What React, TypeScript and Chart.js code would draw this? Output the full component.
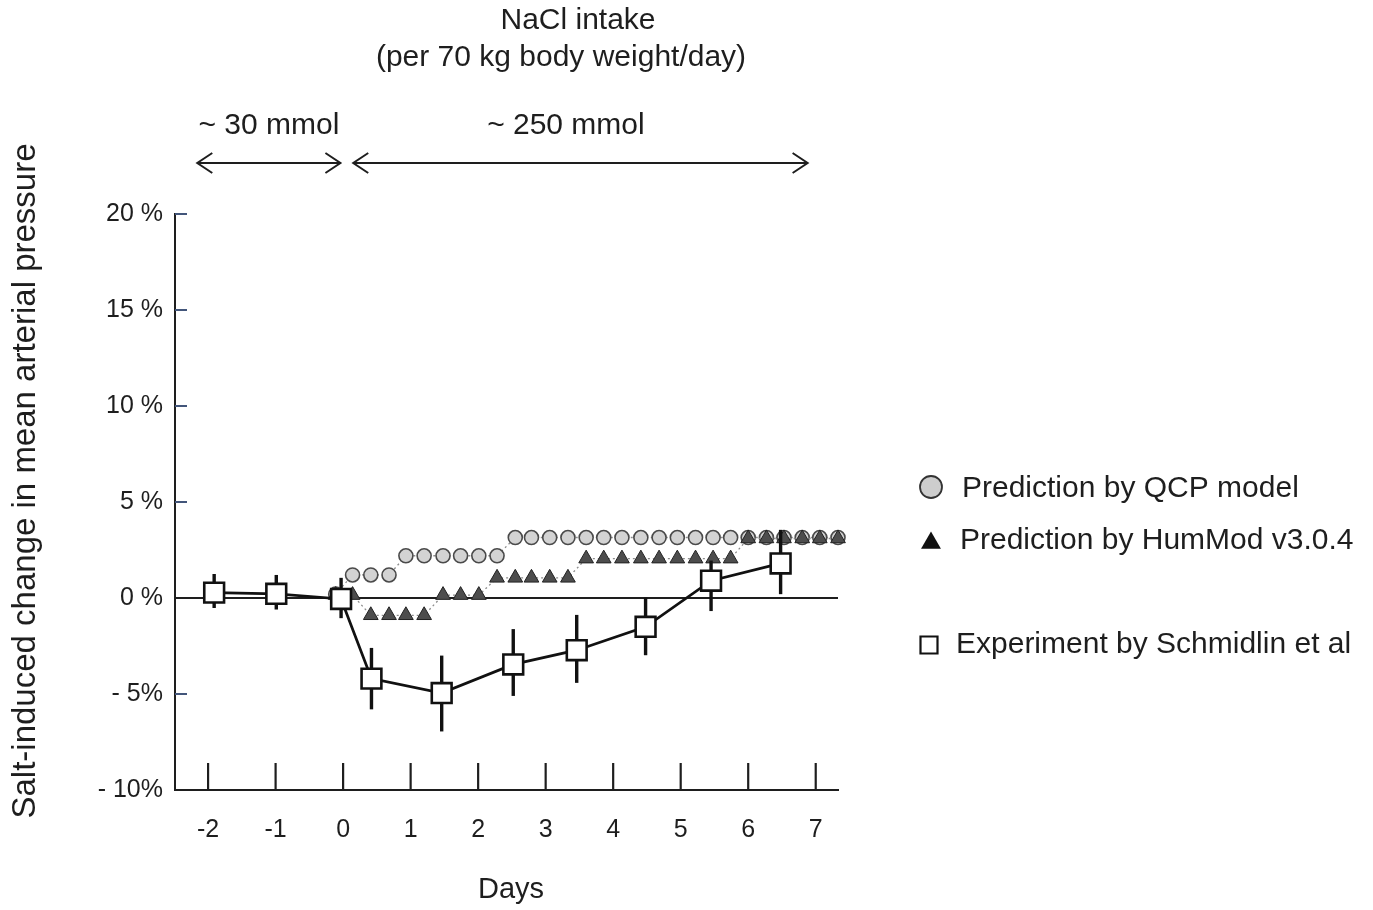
import React, { useEffect, useRef } from 'react';
import { Chart, registerables } from 'chart.js';

Chart.register(...registerables);

// ---------- data ----------
const xTickValues = [-2, -1, 0, 1, 2, 3, 4, 5, 6, 7];
const xTickLabels = ['-2', '-1', '0', '1', '2', '3', '4', '5', '6', '7'];
const yTickValues = [-10, -5, 0, 5, 10, 15, 20];
const yTickLabels = ['- 10%', '- 5%', '0 %', '5 %', '10 %', '15 %', '20 %'];

const modelDays = [
  -0.11, 0.14, 0.41, 0.68, 0.93, 1.2, 1.48, 1.74, 2.01, 2.28, 2.55, 2.79, 3.06, 3.33, 3.6,
  3.86, 4.13, 4.41, 4.68, 4.95, 5.22, 5.48, 5.74, 6.0, 6.27, 6.53, 6.8, 7.06, 7.33,
];
const qcpValues = [
  0.2, 1.2, 1.2, 1.2, 2.2, 2.2, 2.2, 2.2, 2.2, 2.2, 3.15, 3.15, 3.15, 3.15, 3.15,
  3.15, 3.15, 3.15, 3.15, 3.15, 3.15, 3.15, 3.15, 3.15, 3.15, 3.15, 3.15, 3.15, 3.15,
];
const hummodValues = [
  0.15, 0.15, -0.9, -0.9, -0.9, -0.9, 0.15, 0.15, 0.15, 1.05, 1.05, 1.05, 1.05, 1.05, 2.05,
  2.05, 2.05, 2.05, 2.05, 2.05, 2.05, 2.05, 2.05, 3.1, 3.1, 3.1, 3.1, 3.1, 3.1,
];

const expDays = [-1.91, -0.99, -0.03, 0.42, 1.46, 2.52, 3.46, 4.48, 5.45, 6.48];
const expValues = [0.28, 0.22, -0.05, -4.2, -4.95, -3.46, -2.72, -1.5, 0.9, 1.8];
const expHigh = [1.25, 1.2, 1.05, -2.6, -3.0, -1.62, -0.88, 0.02, 1.95, 3.55];
const expLow = [-0.52, -0.6, -1.05, -5.8, -6.95, -5.1, -4.42, -2.98, -0.68, 0.2];

const seriesLabels = [
  'Prediction by QCP model',
  'Prediction by HumMod v3.0.4',
  'Experiment by Schmidlin et al',
];

const lowIntakeRange = [-2.16, -0.04];
const highIntakeRange = [0.15, 6.88];
const lowIntakeLabel = '~ 30 mmol';
const highIntakeLabel = '~ 250 mmol';
const lowIntakeLabelDay = -1.1;
const highIntakeLabelDay = 3.3;

// ---------- style ----------
const FONT = '"Liberation Sans", Arial, Helvetica, sans-serif';
const INK = '#1e1e1e';

function drawMarker(ctx: CanvasRenderingContext2D, kind: string, cx: number, cy: number) {
  ctx.save();
  ctx.beginPath();
  if (kind === 'circle') {
    ctx.arc(cx, cy, 11, 0, Math.PI * 2);
    ctx.fillStyle = '#cdcdcd';
    ctx.strokeStyle = '#333';
    ctx.lineWidth = 1.8;
    ctx.fill();
    ctx.stroke();
  } else if (kind === 'triangle') {
    const r = 11.5;
    ctx.moveTo(cx, cy - r);
    ctx.lineTo(cx + r * 0.866, cy + r * 0.5);
    ctx.lineTo(cx - r * 0.866, cy + r * 0.5);
    ctx.closePath();
    ctx.fillStyle = '#111';
    ctx.fill();
  } else {
    ctx.rect(cx - 8.5, cy - 8.5, 17, 17);
    ctx.fillStyle = '#fff';
    ctx.strokeStyle = '#111';
    ctx.lineWidth = 2.2;
    ctx.fill();
    ctx.stroke();
  }
  ctx.restore();
}

function drawArrow(ctx: CanvasRenderingContext2D, x1: number, x2: number, yy: number) {
  ctx.beginPath();
  ctx.moveTo(x1, yy);
  ctx.lineTo(x2, yy);
  ctx.moveTo(x1 + 15, yy - 10);
  ctx.lineTo(x1, yy);
  ctx.lineTo(x1 + 15, yy + 10);
  ctx.moveTo(x2 - 15, yy - 10);
  ctx.lineTo(x2, yy);
  ctx.lineTo(x2 - 15, yy + 10);
  ctx.stroke();
}

const decorPlugin = {
  id: 'decor',
  beforeDatasetsDraw(chart: any) {
    const { ctx, chartArea: a } = chart;
    const x = chart.scales.x;
    const y = chart.scales.y;
    ctx.save();
    ctx.strokeStyle = INK;
    ctx.lineWidth = 2;
    const y0 = y.getPixelForValue(0);
    ctx.beginPath();
    ctx.moveTo(a.left, y0);
    ctx.lineTo(a.right, y0);
    ctx.stroke();
    ctx.lineWidth = 2.2;
    xTickValues.forEach((v) => {
      const px = x.getPixelForValue(v);
      ctx.beginPath();
      ctx.moveTo(px, a.bottom);
      ctx.lineTo(px, a.bottom - 27);
      ctx.stroke();
    });
    ctx.lineWidth = 2;
    ctx.strokeStyle = '#42557a';
    yTickValues.forEach((v) => {
      if (v === 0 || v === y.min) return;
      const py = y.getPixelForValue(v);
      ctx.beginPath();
      ctx.moveTo(a.left, py);
      ctx.lineTo(a.left + 12, py);
      ctx.stroke();
    });
    ctx.restore();
  },
  beforeDatasetDraw(chart: any, args: any) {
    if (args.index !== 2) return;
    const { ctx } = chart;
    const x = chart.scales.x;
    const y = chart.scales.y;
    ctx.save();
    ctx.strokeStyle = '#111';
    ctx.lineWidth = 3.4;
    expDays.forEach((d, i) => {
      const px = x.getPixelForValue(d);
      ctx.beginPath();
      ctx.moveTo(px, y.getPixelForValue(expHigh[i]));
      ctx.lineTo(px, y.getPixelForValue(expLow[i]));
      ctx.stroke();
    });
    ctx.restore();
  },
  afterDraw(chart: any) {
    const { ctx } = chart;
    const x = chart.scales.x;
    ctx.save();
    ctx.fillStyle = INK;
    ctx.strokeStyle = INK;
    ctx.textBaseline = 'middle';

    // header
    ctx.textAlign = 'center';
    ctx.font = `30px ${FONT}`;
    ctx.fillText('NaCl intake', 578, 21);
    ctx.fillText('(per 70 kg body weight/day)', 561, 58);
    ctx.fillText(lowIntakeLabel, x.getPixelForValue(lowIntakeLabelDay), 126);
    ctx.fillText(highIntakeLabel, x.getPixelForValue(highIntakeLabelDay), 126);

    // arrows
    ctx.lineWidth = 2;
    drawArrow(ctx, x.getPixelForValue(lowIntakeRange[0]), x.getPixelForValue(lowIntakeRange[1]), 163);
    drawArrow(ctx, x.getPixelForValue(highIntakeRange[0]), x.getPixelForValue(highIntakeRange[1]), 163);

    // axis titles
    ctx.font = `29px ${FONT}`;
    ctx.fillText('Days', 511, 890);
    ctx.save();
    ctx.translate(26, 481);
    ctx.rotate(-Math.PI / 2);
    ctx.font = `33px ${FONT}`;
    ctx.fillText('Salt-induced change in mean arterial pressure', 0, 0);
    ctx.restore();

    // legend
    ctx.textAlign = 'left';
    ctx.font = `30px ${FONT}`;
    drawMarker(ctx, 'circle', 931, 487);
    ctx.fillText(seriesLabels[0], 962, 489);
    drawMarker(ctx, 'triangle', 931, 543);
    ctx.fillText(seriesLabels[1], 960, 541);
    drawMarker(ctx, 'square', 929, 645);
    ctx.fillText(seriesLabels[2], 956, 645);
    ctx.restore();
  },
};

export default function App() {
  const ref = useRef<HTMLCanvasElement>(null);

  useEffect(() => {
    const canvas = ref.current;
    if (!canvas) return;
    const qcpData = modelDays.map((d, i) => ({ x: d, y: qcpValues[i] }));
    const humData = modelDays.map((d, i) => ({ x: d, y: hummodValues[i] }));
    const expData = expDays.map((d, i) => ({ x: d, y: expValues[i] }));

    const chart = new Chart(canvas, {
      type: 'line',
      data: {
        datasets: [
          {
            label: seriesLabels[0],
            data: qcpData,
            order: 2,
            borderColor: '#8c8c8c',
            borderWidth: 1.3,
            borderDash: [2, 3],
            pointStyle: 'circle',
            pointRadius: 7,
            pointBackgroundColor: '#d3d3d3',
            pointBorderColor: '#4a4a4a',
            pointBorderWidth: 1.6,
            clip: false,
          },
          {
            label: seriesLabels[1],
            data: humData,
            order: 1,
            borderColor: '#8c8c8c',
            borderWidth: 1.3,
            borderDash: [2, 3],
            pointStyle: 'triangle',
            pointRadius: 8.5,
            pointBackgroundColor: '#4d4d4d',
            pointBorderColor: '#222',
            pointBorderWidth: 1,
            clip: false,
          },
          {
            label: seriesLabels[2],
            data: expData,
            order: 0,
            borderColor: '#111',
            borderWidth: 2.8,
            pointStyle: 'rect',
            pointRadius: 14,
            pointBackgroundColor: '#ffffff',
            pointBorderColor: '#111',
            pointBorderWidth: 2.6,
            clip: false,
          },
        ],
      } as any,
      options: {
        animation: false,
        responsive: false,
        devicePixelRatio: 1,
        events: [],
        layout: { padding: { left: 0, top: 214, right: 535, bottom: 0 } },
        plugins: {
          legend: { display: false },
          tooltip: { enabled: false },
          title: { display: false },
        },
        scales: {
          x: {
            type: 'linear',
            min: -2.49,
            max: 7.33,
            grid: { display: false, drawTicks: false },
            border: { display: true, color: INK, width: 2 },
            afterBuildTicks: (scale: any) => {
              scale.ticks = xTickValues.map((v) => ({ value: v }));
            },
            afterFit: (scale: any) => {
              scale.height = 120;
            },
            ticks: {
              autoSkip: false,
              maxRotation: 0,
              padding: 25,
              color: INK,
              font: { family: FONT, size: 25 },
              callback: (v: any) => {
                const i = xTickValues.indexOf(Number(v));
                return i >= 0 ? xTickLabels[i] : '';
              },
            },
          },
          y: {
            type: 'linear',
            min: -10,
            max: 20,
            grid: { display: false, drawTicks: false },
            border: { display: true, color: INK, width: 2 },
            afterBuildTicks: (scale: any) => {
              scale.ticks = yTickValues.map((v) => ({ value: v }));
            },
            afterFit: (scale: any) => {
              scale.width = 175;
            },
            ticks: {
              autoSkip: false,
              padding: 12,
              color: INK,
              font: { family: FONT, size: 25 },
              callback: (v: any) => {
                const i = yTickValues.indexOf(Number(v));
                return i >= 0 ? yTickLabels[i] : '';
              },
            },
          },
        },
      } as any,
      plugins: [decorPlugin],
    });
    return () => chart.destroy();
  }, []);

  return (
    <div style={{ position: 'absolute', left: 0, top: 0, width: 1373, height: 910, background: '#fff' }}>
      <canvas ref={ref} width={1373} height={910} style={{ display: 'block', width: 1373, height: 910 }} />
    </div>
  );
}
